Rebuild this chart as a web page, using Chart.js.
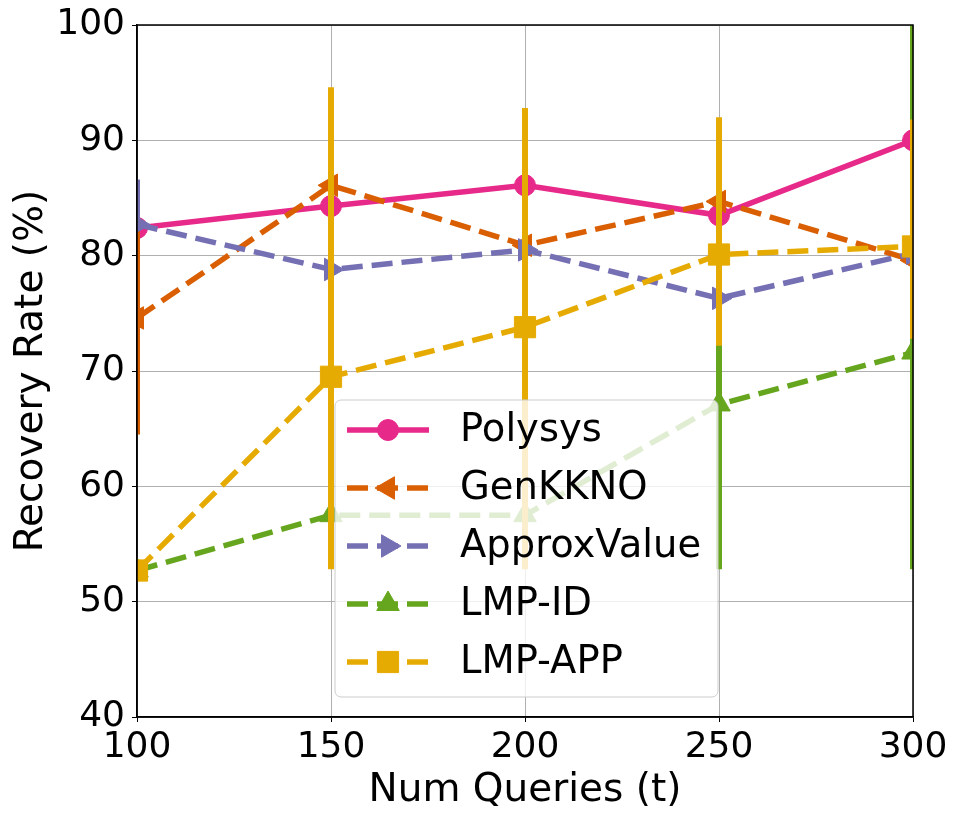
<!DOCTYPE html>
<html>
<head>
<meta charset="utf-8">
<script src="https://cdn.jsdelivr.net/npm/chart.js@4/dist/chart.umd.min.js"></script>
<style>
html,body{margin:0;padding:0;background:#fff;}
#wrap{width:959px;height:819px;position:relative;}
</style>
</head>
<body>
<div id="wrap"><canvas id="c" width="959" height="819"></canvas></div>
<script>
// ---- data ----
const numQueries = [100, 150, 200, 250, 300];
const xTicks = [100, 150, 200, 250, 300];
const yTicks = [40, 50, 60, 70, 80, 90, 100];
const seriesNames = ['Polysys', 'GenKKNO', 'ApproxValue', 'LMP-ID', 'LMP-APP'];

const polysys     = [82.4, 84.3, 86.1, 83.5, 90.0];
const genKKNO     = [74.6, 86.1, 80.9, 84.7, 79.6];
const approxValue = [82.7, 78.8, 80.5, 76.3, 80.2];
const lmpID       = [52.7, 57.5, 57.5, 67.1, 71.6];
const lmpAPP      = [52.7, 69.5, 73.8, 80.1, 80.8];

// error ranges [low, high] (null = no visible bar)
const polysysErr     = [null, null, null, null, null];
const genKKNOErr     = [[64.5, 84.9], null, null, null, null];
const approxValueErr = [[82.5, 86.6], null, null, null, null];
const lmpIDErr       = [null, null, null, [52.8, 81.0], [52.8, 104.0]];
const lmpAPPErr      = [null, [52.8, 94.6], [52.8, 92.8], [72.2, 92.0], [72.8, 91.8]];

// ---- styles ----
const colors = ['#e7298a', '#d95f02', '#7570b3', '#66a61e', '#e6ab02'];
const LW = 5.5;
const DASH = [21, 9];
const styles = [
  {pointStyle: 'circle',   rotation: 0,   radius: 10.5, dash: []},
  {pointStyle: 'triangle', rotation: -90, radius: 13,   dash: DASH},
  {pointStyle: 'triangle', rotation: 90,  radius: 13,   dash: DASH},
  {pointStyle: 'triangle', rotation: 0,   radius: 13,   dash: DASH},
  {pointStyle: 'rect',     rotation: 0,   radius: 15,   dash: DASH},
];
const allValues = [polysys, genKKNO, approxValue, lmpID, lmpAPP];
const allErr = [polysysErr, genKKNOErr, approxValueErr, lmpIDErr, lmpAPPErr];

const datasets = [];
const nS = seriesNames.length;
for (let s = 0; s < nS; s++) {
  const st = styles[s];
  const baseOrder = (nS - 1 - s) * 2;
  datasets.push({
    label: seriesNames[s],
    isMain: true,
    data: numQueries.map((x, i) => ({x: x, y: allValues[s][i]})),
    borderColor: colors[s],
    backgroundColor: colors[s],
    borderWidth: LW,
    borderDash: st.dash,
    pointStyle: st.pointStyle,
    pointRotation: st.rotation,
    pointRadius: st.radius,
    pointHoverRadius: st.radius,
    pointBackgroundColor: colors[s],
    pointBorderColor: colors[s],
    pointBorderWidth: 1,
    tension: 0,
    clip: 0,
    order: baseOrder + 1
  });
  const errData = [];
  allErr[s].forEach((e, i) => {
    if (e) {
      errData.push({x: numQueries[i], y: e[0]});
      errData.push({x: numQueries[i], y: e[1]});
      errData.push({x: numQueries[i], y: null});
    }
  });
  datasets.push({
    label: seriesNames[s] + ' err',
    isMain: false,
    data: errData,
    borderColor: colors[s],
    backgroundColor: colors[s],
    borderWidth: 6,
    pointRadius: 0,
    pointHoverRadius: 0,
    spanGaps: false,
    clip: 0,
    order: baseOrder
  });
}

const FONT = 'DejaVu Sans';
Chart.defaults.font.family = FONT;
Chart.defaults.color = '#000';

const framePlugin = {
  id: 'frame',
  afterDatasetsDraw(chart) {
    const {ctx, chartArea: a} = chart;
    ctx.save();
    ctx.strokeStyle = '#000';
    ctx.lineWidth = 1.5;
    ctx.strokeRect(a.left, a.top, a.right - a.left, a.bottom - a.top);
    ctx.restore();
  }
};

const legendPlugin = {
  id: 'mplLegend',
  afterDraw(chart) {
    const {ctx, chartArea: a} = chart;
    const left = a.left + 198, right = a.left + 581;
    const top = a.top + 375, bottom = a.bottom - 20;
    const r = 6;
    ctx.save();
    ctx.beginPath();
    ctx.moveTo(left + r, top);
    ctx.lineTo(right - r, top);
    ctx.arcTo(right, top, right, top + r, r);
    ctx.lineTo(right, bottom - r);
    ctx.arcTo(right, bottom, right - r, bottom, r);
    ctx.lineTo(left + r, bottom);
    ctx.arcTo(left, bottom, left, bottom - r, r);
    ctx.lineTo(left, top + r);
    ctx.arcTo(left, top, left + r, top, r);
    ctx.closePath();
    ctx.fillStyle = 'rgba(255,255,255,0.8)';
    ctx.fill();
    ctx.strokeStyle = '#cccccc';
    ctx.lineWidth = 1;
    ctx.stroke();
    const mains = chart.data.datasets.filter(d => d.isMain);
    mains.forEach((d, i) => {
      const y = top + 30 + i * 58;
      const x0 = left + 12, x1 = left + 94, xm = left + 53;
      ctx.save();
      ctx.strokeStyle = d.borderColor;
      ctx.lineWidth = LW;
      ctx.setLineDash(d.borderDash || []);
      ctx.lineCap = 'butt';
      ctx.beginPath();
      ctx.moveTo(x0, y);
      ctx.lineTo(x1, y);
      ctx.stroke();
      ctx.restore();
      ctx.save();
      ctx.fillStyle = d.pointBackgroundColor;
      ctx.strokeStyle = d.pointBorderColor;
      ctx.lineWidth = 1;
      Chart.helpers.drawPoint(ctx, {pointStyle: d.pointStyle, rotation: d.pointRotation, radius: d.pointRadius, borderWidth: 1}, xm, y);
      ctx.restore();
      ctx.fillStyle = '#000';
      ctx.font = '38.5px "' + FONT + '"';
      ctx.textBaseline = 'middle';
      ctx.textAlign = 'left';
      ctx.fillText(d.label, left + 125, y + 1);
    });
    ctx.restore();
  }
};

new Chart(document.getElementById('c'), {
  type: 'line',
  data: {datasets: datasets},
  options: {
    responsive: false,
    animation: false,
    devicePixelRatio: 1,
    layout: {padding: {left: 0, top: 25, right: 46, bottom: 0}},
    plugins: {legend: {display: false}, tooltip: {enabled: false}},
    elements: {line: {borderCapStyle: 'butt'}},
    scales: {
      x: {
        type: 'linear',
        min: 100, max: 300,
        afterBuildTicks: (scale) => { scale.ticks = xTicks.map(v => ({value: v})); },
        afterFit: (scale) => { scale.height = 102; scale.paddingLeft = 0; scale.paddingRight = 0; },
        ticks: {font: {size: 36}, color: '#000', padding: 4, maxRotation: 0},
        grid: {color: '#b0b0b0', lineWidth: 1, tickColor: '#000', tickLength: 5, drawTicks: true},
        border: {color: '#000', width: 1.5},
        title: {display: true, text: 'Num Queries (t)', font: {size: 39}, color: '#000', padding: {top: 0, bottom: 5}}
      },
      y: {
        min: 40, max: 100,
        afterBuildTicks: (scale) => { scale.ticks = yTicks.map(v => ({value: v})); },
        afterFit: (scale) => { scale.width = 137; scale.paddingTop = 0; scale.paddingBottom = 0; },
        ticks: {font: {size: 36}, color: '#000', padding: 7},
        grid: {color: '#b0b0b0', lineWidth: 1, tickColor: '#000', tickLength: 5},
        border: {color: '#000', width: 1.5},
        title: {display: true, text: 'Recovery Rate (%)', font: {size: 39}, color: '#000', padding: {top: 8, bottom: 0}}
      }
    }
  },
  plugins: [framePlugin, legendPlugin]
});
</script>
</body>
</html>
